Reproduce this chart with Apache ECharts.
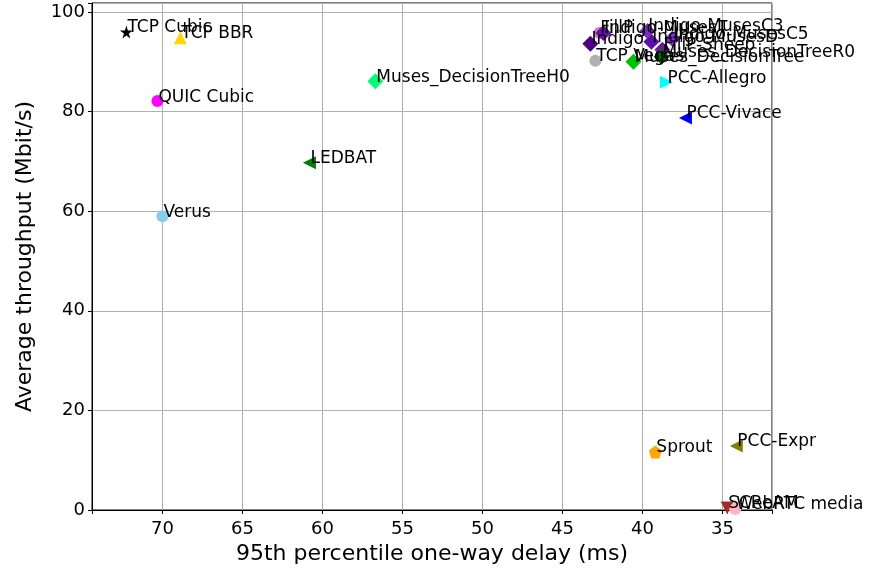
<!DOCTYPE html>
<html>
<head>
<meta charset="utf-8">
<script src="https://cdn.jsdelivr.net/npm/echarts@6/dist/echarts.min.js"></script>
<style>html,body{margin:0;padding:0;background:#fff}#main{width:877px;height:579px}</style>
</head>
<body>
<div id="main"></div>
<script>
// schemes, one-way delay (ms, 95th pct) and throughput (Mbit/s)
var names = ['TCP Cubic', 'TCP BBR', 'QUIC Cubic', 'Verus', 'LEDBAT', 'Muses_DecisionTreeH0',
	'Indigo', 'TCP Vegas', 'FillP', 'Indigo-MusesT', 'Indigo-MusesD', 'FillP-Sheep', 'Indigo-MusesC3',
	'Indigo-MusesC5', 'Muses_DecisionTree', 'Muses_DecisionTreeR0', 'PCC-Allegro', 'PCC-Vivace',
	'Sprout', 'PCC-Expr', 'SCReAM', 'WebRTC media'];
var delay = [72.25, 68.88, 70.31, 70.0, 60.81, 56.69,
	43.25, 42.94, 42.69, 42.44, 39.44, 38.75, 39.69,
	38.13, 40.56, 38.8, 38.5, 37.31,
	39.19, 34.13, 34.7, 34.2];
var tput = [96.0, 94.8, 82.1, 59.0, 69.7, 86.1,
	93.6, 90.2, 95.8, 95.8, 94.0, 92.4, 96.2,
	94.6, 90.0, 91.0, 85.9, 78.7,
	11.65, 12.85, 0.4, 0.2];
var colors = ['#000000', '#ffd700', '#ff00ff', '#87ceeb', '#008000', '#00fa7a',
	'#4b0082', '#b0b0b0', '#da70d6', '#6a0dad', '#5b0fa8', '#6a1b9a', '#7b2fbe',
	'#8a2be2', '#00c000', '#006400', '#00ffff', '#0000ff',
	'#ffa500', '#808000', '#a52a2a', '#ffb6c1'];
var shapes = ['star', 'up', 'circle', 'circle', 'left', 'diamond',
	'diamond', 'circle', 'circle', 'diamond', 'diamond', 'diamond', 'diamond',
	'diamond', 'diamond', 'diamond', 'right', 'left',
	'pentagon', 'left', 'down', 'circle'];

var symbolMap = {
	star: {symbol: 'path://M50,0 L61,35 L98,35 L68,57 L79,91 L50,70 L21,91 L32,57 L2,35 L39,35 Z', size: 13, rotate: 0},
	pentagon: {symbol: 'path://M50,0 L100,38 L81,100 L19,100 L0,38 Z', size: 13, rotate: 0},
	circle: {symbol: 'circle', size: 12, rotate: 0},
	diamond: {symbol: 'diamond', size: 16, rotate: 0},
	up: {symbol: 'triangle', size: 13, rotate: 0},
	left: {symbol: 'triangle', size: 13, rotate: 90},
	right: {symbol: 'triangle', size: 13, rotate: -90},
	down: {symbol: 'triangle', size: 13, rotate: 180}
};

var points = [];
for (var i = 0; i < names.length; i++) {
	var s = symbolMap[shapes[i]];
	points.push({
		name: names[i],
		value: [delay[i], tput[i]],
		symbol: s.symbol,
		symbolSize: s.size,
		symbolRotate: s.rotate,
		itemStyle: {color: colors[i], opacity: 1},
		// text sits with its baseline on the point, like an annotation
		label: {position: [s.size / 2 + 1, s.size / 2 - 4]}
	});
}

var font = 'DejaVu Sans';
var myChart = echarts.init(document.getElementById('main'));
option = {
	animation: false,
	backgroundColor: '#fff',
	grid: {left: 92, right: 105, top: 3, bottom: 69, show: true, borderColor: '#000', borderWidth: 1},
	xAxis: {
		type: 'value',
		inverse: true,
		min: 31.9,
		max: 74.4,
		minInterval: 5,
		maxInterval: 5,
		name: '95th percentile one-way delay (ms)',
		nameLocation: 'middle',
		nameGap: 33,
		nameTextStyle: {fontFamily: font, fontSize: 22, color: '#000'},
		axisLine: {lineStyle: {color: '#000', width: 1}},
		axisTick: {length: 4, lineStyle: {color: '#000'}},
		axisLabel: {fontFamily: font, fontSize: 18, color: '#000', margin: 10,
			formatter: function (v) { return v % 5 === 0 ? v : ''; }},
		splitLine: {show: true, lineStyle: {color: '#b0b0b0', width: 1}}
	},
	yAxis: {
		type: 'value',
		min: 0,
		max: 101.8,
		interval: 20,
		name: 'Average throughput (Mbit/s)',
		nameLocation: 'middle',
		nameGap: 56,
		nameTextStyle: {fontFamily: font, fontSize: 22, color: '#000'},
		axisLine: {show: true, lineStyle: {color: '#000', width: 1}},
		axisTick: {show: true, length: 4, lineStyle: {color: '#000'}},
		axisLabel: {fontFamily: font, fontSize: 18, color: '#000', margin: 7,
			formatter: function (v) { return v % 20 === 0 ? v : ''; }},
		splitLine: {show: true, lineStyle: {color: '#b0b0b0', width: 1}}
	},
	series: [{
		type: 'scatter',
		data: points,
		label: {
			show: true,
			align: 'left',
			verticalAlign: 'middle',
			formatter: '{b}',
			fontFamily: font,
			fontSize: 17,
			color: '#000'
		},
		labelLayout: {hideOverlap: false}
	}]
};
myChart.setOption(option);
</script>
</body>
</html>
